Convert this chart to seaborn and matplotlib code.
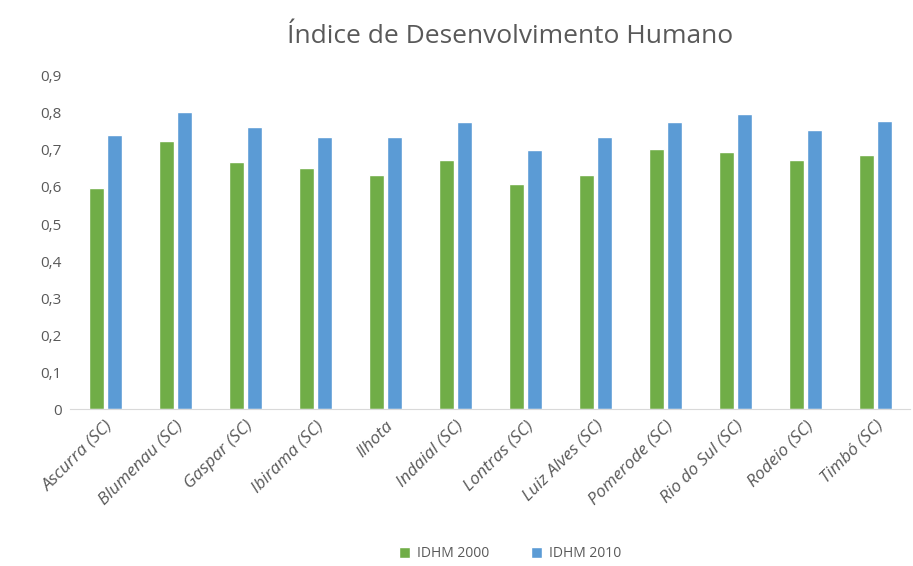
import pandas as pd
import matplotlib.pyplot as plt
import seaborn as sns

municipios = ["Ascurra (SC)", "Blumenau (SC)", "Gaspar (SC)", "Ibirama (SC)", "Ilhota",
              "Indaial (SC)", "Lontras (SC)", "Luiz Alves (SC)", "Pomerode (SC)",
              "Rio do Sul (SC)", "Rodeio (SC)", "Timbó (SC)"]
idhm_2000 = [0.597, 0.723, 0.668, 0.650, 0.633, 0.673, 0.609, 0.632, 0.703, 0.695, 0.672, 0.687]
idhm_2010 = [0.739, 0.802, 0.762, 0.735, 0.735, 0.775, 0.700, 0.734, 0.775, 0.797, 0.754, 0.778]

df = pd.DataFrame({
    "municipio": municipios * 2,
    "valor": idhm_2000 + idhm_2010,
    "serie": ["IDHM 2000"] * len(municipios) + ["IDHM 2010"] * len(municipios),
})

sns.set_style("white")
plt.rcParams['font.family'] = ['Open Sans', 'DejaVu Sans']

fig = plt.figure(figsize=(9.13, 5.66), dpi=100)
ax = fig.add_axes([0.077, 0.277, 0.92, 0.589])

sns.barplot(
    data=df, x="municipio", y="valor", hue="serie",
    palette=["#70AD47", "#5B9BD5"], width=0.52, gap=0.18,
    saturation=1, ax=ax
)

ax.set_ylim(0, 0.9)
ax.set_xlim(-0.5, len(municipios) - 0.5)
ticks = [i / 10 for i in range(10)]
ax.set_yticks(ticks)
ax.set_yticklabels(["0"] + [f"0,{i}" for i in range(1, 10)], color="#595959", fontsize=11)
ax.set_xticks(range(len(municipios)))
ax.set_xticklabels(municipios, rotation=45, ha="right", rotation_mode="anchor",
                   color="#595959", fontsize=12.5, style="italic")
ax.set_xlabel("")
ax.set_ylabel("")
ax.tick_params(axis="both", length=0, pad=6)
for s in ["top", "right", "left"]:
    ax.spines[s].set_visible(False)
ax.spines["bottom"].set_color("#D9D9D9")

fig.suptitle("Índice de Desenvolvimento Humano", x=0.559, y=0.958,
             fontsize=19, color="#595959")

ax.legend(loc="center", bbox_to_anchor=(0.524, -0.433), ncol=2, frameon=False,
          fontsize=10, labelcolor="#595959", handlelength=0.8, handleheight=0.8,
          columnspacing=3.0, handletextpad=0.5)

plt.savefig("out.png", dpi=100)
